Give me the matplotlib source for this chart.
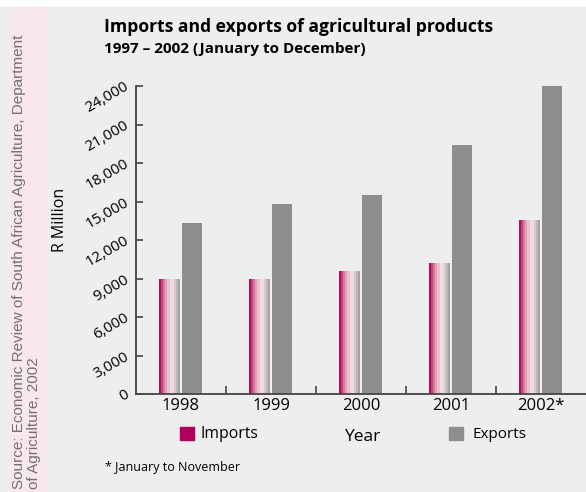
import matplotlib.pyplot as plt
import numpy as np

# Data (R Million)
years = ['1998', '1999', '2000', '2001', '2002*']
imports = [8950, 8950, 9600, 10200, 13550]
exports = [13300, 14800, 15500, 19400, 24000]
y_ticks = [0, 3000, 6000, 9000, 12000, 15000, 18000, 21000, 24000]

bg = '#eeeeee'
magenta = '#b0005c'
grey = '#8e8e8e'
# stripes used to fake the shaded cylinder look of the import bars
stripe_colors = ['#b00c5c', '#c4437c', '#d47898', '#e0a2b8', '#eac0ce',
                 '#f3d9e1', '#efdce2', '#d6cacf', '#bdb7ba', '#a4a4a4']

plt.rcParams['font.family'] = ['Open Sans', 'DejaVu Sans']

fig = plt.figure(figsize=(5.86, 4.92), dpi=100)
fig.patch.set_facecolor('white')

# background panels
fig.patches.append(plt.Rectangle((0, 0), 1, 1 - 7 / 492, transform=fig.transFigure,
                                 color=bg, zorder=-10))
fig.patches.append(plt.Rectangle((11 / 586, 0), 35 / 586, 1 - 7 / 492,
                                 transform=fig.transFigure, color='#f8e8ec', zorder=-9))

ax = fig.add_axes([136 / 586, 1 - 394 / 492, 450 / 586, 308 / 492])
ax.set_facecolor(bg)
ax.patch.set_alpha(0)

x = np.arange(len(years))
w_imp = 0.233
w_exp = 0.222
n = len(stripe_colors)
sw = w_imp / n
for k, c in enumerate(stripe_colors):
    ax.bar(x - 0.244 + sw * (k + 0.5), imports, width=sw, color=c, linewidth=0)
ax.bar(x + 0.122, exports, width=w_exp, color=grey, linewidth=0)

ax.set_xlim(-0.5, len(years) - 0.5)
ax.set_ylim(0, 24000)

for s in ['top', 'right']:
    ax.spines[s].set_visible(False)
for s in ['left', 'bottom']:
    ax.spines[s].set_color('#444444')
    ax.spines[s].set_linewidth(1.3)

ax.set_yticks(y_ticks)
ax.set_yticklabels([f'{v:,}' for v in y_ticks], rotation=30, ha='right',
                   va='center', rotation_mode='anchor', fontsize=11)
ax.tick_params(axis='y', direction='in', length=5, width=1.2, color='#444444', pad=6)

ax.set_xticks(x)
ax.set_xticklabels(years, fontsize=12)
ax.tick_params(axis='x', length=0, pad=3)
ax.set_xticks(x[:-1] + 0.5, minor=True)
ax.tick_params(axis='x', which='minor', direction='in', length=6, width=1.2, color='#444444')

# titles
fig.text(104 / 586, 1 - 27 / 492, 'Imports and exports of agricultural products',
         fontsize=12.6, fontweight='bold', va='center', ha='left')
fig.text(104 / 586, 1 - 49 / 492, '1997 – 2002 (January to December)',
         fontsize=11, fontweight='bold', va='center', ha='left')

fig.text(60 / 586, 1 - 220 / 492, 'R Million', rotation=90, fontsize=11.5,
         ha='center', va='center')
fig.text(362 / 586, 1 - 437 / 492, 'Year', fontsize=12.5, ha='center', va='center')

# legend
fig.patches.append(plt.Rectangle((180 / 586, 1 - 440 / 492), 14 / 586, 13 / 492,
                                 transform=fig.transFigure, color=magenta))
fig.text(200 / 586, 1 - 434 / 492, 'Imports', fontsize=11.3, ha='left', va='center')
fig.patches.append(plt.Rectangle((449 / 586, 1 - 440 / 492), 14 / 586, 13 / 492,
                                 transform=fig.transFigure, color=grey))
fig.text(472 / 586, 1 - 434 / 492, 'Exports', fontsize=11, ha='left', va='center')

fig.text(105 / 586, 1 - 468 / 492, '* January to November', fontsize=9,
         ha='left', va='center')

# source strip
fig.text(19 / 586, 1 - 489 / 492,
         'Source: Economic Review of South African Agriculture, Department',
         rotation=90, fontsize=11, color='#707070', ha='center', va='bottom',
         family='Liberation Sans')
fig.text(34 / 586, 1 - 489 / 492, 'of Agriculture, 2002',
         rotation=90, fontsize=11, color='#707070', ha='center', va='bottom',
         family='Liberation Sans')

fig.savefig('out.png', dpi=100, facecolor=fig.get_facecolor())
